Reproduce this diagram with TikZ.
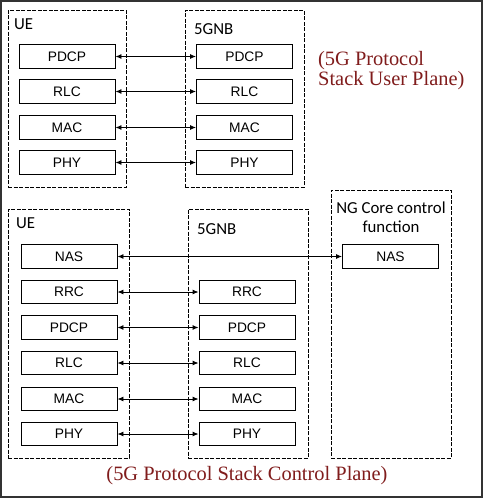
\documentclass[tikz,border=0pt]{standalone}
\usepackage{fontspec}
\setmainfont{Liberation Serif}
\setsansfont{Liberation Sans}
\newfontfamily\tagfont{Carlito}
\usetikzlibrary{arrows.meta}

\definecolor{captionred}{RGB}{128,28,28}

\tikzset{
  layer/.style={draw, line width=0.9pt, minimum width=96pt, minimum height=23.5pt,
    inner sep=0pt, font=\sffamily\fontsize{13.8}{15}\selectfont},
  stackbox/.style={draw, line width=0.8pt, dash pattern=on 4pt off 1.5pt, inner sep=0pt},
  peer/.style={{Latex[length=6pt,width=5pt]}-{Latex[length=6pt,width=5pt]}, line width=0.9pt},
  tag/.style={inner sep=0pt, font=\tagfont\fontsize{16.8}{19}\selectfont},
  caption/.style={text=captionred, inner sep=0pt, font=\fontsize{20.4}{20}\selectfont}
}

\begin{document}
\begin{tikzpicture}[x=1pt, y=-1pt]
\useasboundingbox (0,0) rectangle (484,499);
\draw[line width=1.5pt, black!80] (1,1) rectangle (482,497);

% user plane
\node[stackbox, minimum width=118pt, minimum height=177pt] (u-ue) at (67,98.5) {};
\node[stackbox, minimum width=119pt, minimum height=177pt] (u-gnb) at (244.5,98.5) {};
\node[tag, anchor=west] (u-ue-tag) at (14,24) {UE};
\node[tag, anchor=west] (u-gnb-tag) at (194,29) {5GNB};
\foreach \name/\lbl/\y in {pdcp/PDCP/56.5, rlc/RLC/91.5, mac/MAC/127.5, phy/PHY/162.5} {
  \node[layer] (u-ue-\name) at (67,\y) {\lbl};
  \node[layer] (u-gnb-\name) at (244.5,\y) {\lbl};
  \draw[peer] (u-ue-\name) -- (u-gnb-\name);
}
\node[caption, anchor=base west, align=left] (u-caption) at (318,85)
  {(5G Protocol\\Stack User Plane)};

% control plane
\node[stackbox, minimum width=121pt, minimum height=249pt] (c-ue) at (68.5,333.5) {};
\node[stackbox, minimum width=120pt, minimum height=249pt] (c-gnb) at (248,333.5) {};
\node[stackbox, minimum width=120pt, minimum height=268pt] (c-core) at (391,324) {};
\node[tag, anchor=west] (c-ue-tag) at (16,223) {UE};
\node[tag, anchor=west] (c-gnb-tag) at (197,229) {5GNB};
\node[tag, align=center] (c-core-tag) at (391,217.5) {NG Core control\\function};
\node[layer] (c-ue-nas) at (69,256.5) {NAS};
\node[layer] (c-core-nas) at (390.5,256.5) {NAS};
\draw[peer] (c-ue-nas) -- (c-core-nas);
\foreach \name/\lbl/\y in {rrc/RRC/292, pdcp/PDCP/327.5, rlc/RLC/363, mac/MAC/399, phy/PHY/434} {
  \node[layer] (c-ue-\name) at (69,\y) {\lbl};
  \node[layer] (c-gnb-\name) at (247,\y) {\lbl};
  \draw[peer] (c-ue-\name) -- (c-gnb-\name);
}
\node[caption, anchor=base] (c-caption) at (247,480) {(5G Protocol Stack Control Plane)};
\end{tikzpicture}
\end{document}
